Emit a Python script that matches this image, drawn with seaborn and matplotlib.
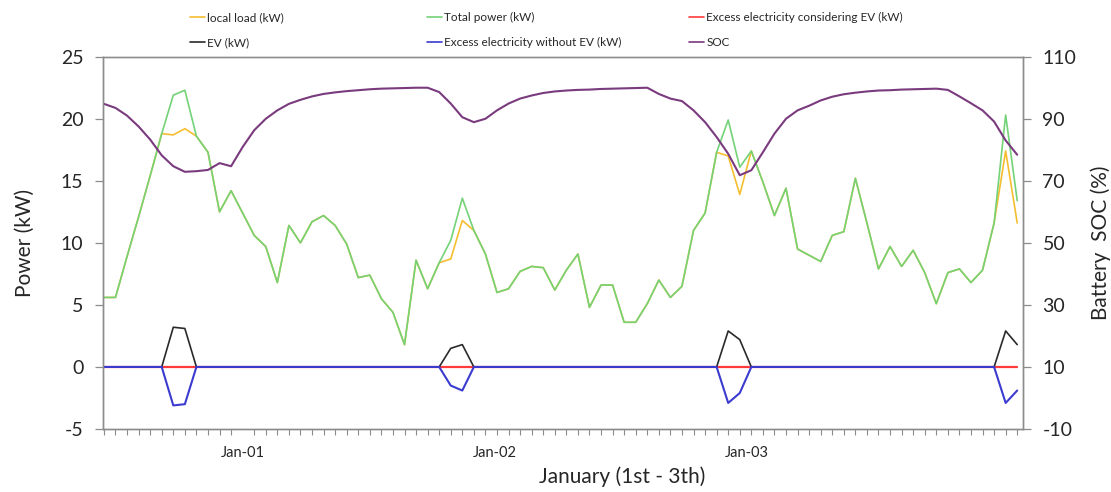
import numpy as np
import pandas as pd
import matplotlib
matplotlib.use("Agg")
import matplotlib.pyplot as plt
from matplotlib.lines import Line2D
import seaborn as sns

# ---------------- data ----------------
total_power = [5.6, 5.6, 8.9, 12.1, 15.4, 18.8, 21.9, 22.3, 18.6, 17.3,
               12.5, 14.2, 12.4, 10.6, 9.7, 6.8, 11.4, 10.0, 11.7, 12.2,
               11.4, 9.9, 7.2, 7.4, 5.5, 4.4, 1.8, 8.6, 6.3, 8.4,
               10.2, 13.6, 11.0, 9.1, 6.0, 6.3, 7.7, 8.1, 8.0, 6.2,
               7.8, 9.1, 4.8, 6.6, 6.6, 3.6, 3.6, 5.1, 7.0, 5.6,
               6.5, 11.0, 12.4, 17.3, 19.9, 16.1, 17.4, 14.9, 12.2, 14.4,
               9.5, 9.0, 8.5, 10.6, 10.9, 15.2, 11.6, 7.9, 9.7, 8.1,
               9.4, 7.6, 5.1, 7.6, 7.9, 6.8, 7.8, 11.6, 20.3, 13.4]

local_load = [5.6, 5.6, 8.9, 12.1, 15.4, 18.8, 18.7, 19.2, 18.6, 17.3,
              12.5, 14.2, 12.4, 10.6, 9.7, 6.8, 11.4, 10.0, 11.7, 12.2,
              11.4, 9.9, 7.2, 7.4, 5.5, 4.4, 1.8, 8.6, 6.3, 8.4,
              8.7, 11.8, 11.0, 9.1, 6.0, 6.3, 7.7, 8.1, 8.0, 6.2,
              7.8, 9.1, 4.8, 6.6, 6.6, 3.6, 3.6, 5.1, 7.0, 5.6,
              6.5, 11.0, 12.4, 17.3, 17.0, 13.9, 17.4, 14.9, 12.2, 14.4,
              9.5, 9.0, 8.5, 10.6, 10.9, 15.2, 11.6, 7.9, 9.7, 8.1,
              9.4, 7.6, 5.1, 7.6, 7.9, 6.8, 7.8, 11.6, 17.4, 11.6]

ev = [0, 0, 0, 0, 0, 0, 3.2, 3.1, 0, 0,
      0, 0, 0, 0, 0, 0, 0, 0, 0, 0,
      0, 0, 0, 0, 0, 0, 0, 0, 0, 0,
      1.5, 1.8, 0, 0, 0, 0, 0, 0, 0, 0,
      0, 0, 0, 0, 0, 0, 0, 0, 0, 0,
      0, 0, 0, 0, 2.9, 2.2, 0, 0, 0, 0,
      0, 0, 0, 0, 0, 0, 0, 0, 0, 0,
      0, 0, 0, 0, 0, 0, 0, 0, 2.9, 1.8]

excess_without_ev = [0, 0, 0, 0, 0, 0, -3.1, -3.0, 0, 0,
                     0, 0, 0, 0, 0, 0, 0, 0, 0, 0,
                     0, 0, 0, 0, 0, 0, 0, 0, 0, 0,
                     -1.5, -1.9, 0, 0, 0, 0, 0, 0, 0, 0,
                     0, 0, 0, 0, 0, 0, 0, 0, 0, 0,
                     0, 0, 0, 0, -2.9, -2.1, 0, 0, 0, 0,
                     0, 0, 0, 0, 0, 0, 0, 0, 0, 0,
                     0, 0, 0, 0, 0, 0, 0, 0, -2.9, -1.9]

excess_with_ev = [0.0] * 80

soc = [94.8, 93.5, 91.0, 87.5, 83.3, 78.2, 74.7, 72.9, 73.1, 73.5,
       75.7, 74.7, 80.9, 86.3, 90.0, 92.7, 94.8, 96.1, 97.2, 98.0,
       98.5, 98.9, 99.2, 99.5, 99.7, 99.8, 99.9, 100.0, 100.0, 98.6,
       94.9, 90.5, 88.9, 90.0, 92.7, 94.9, 96.5, 97.5, 98.3, 98.8,
       99.1, 99.3, 99.4, 99.6, 99.7, 99.8, 99.9, 100.0, 98.0, 96.5,
       95.7, 92.7, 88.9, 84.1, 78.7, 71.8, 73.4, 79.2, 85.2, 90.0,
       92.7, 94.2, 95.9, 97.1, 97.9, 98.4, 98.8, 99.1, 99.2, 99.4,
       99.5, 99.6, 99.7, 99.3, 97.2, 95.0, 92.7, 89.1, 83.0, 78.4]

day_labels = ["Jan-01", "Jan-02", "Jan-03"]
day_label_pos = [12.0, 33.8, 55.6]

# ---------------- style ----------------
sns.set_theme(style="white")
plt.rcParams["font.family"] = ["Lato", "DejaVu Sans"]
plt.rcParams["axes.unicode_minus"] = False

C_LOAD = "#F5BE30"
C_TOTAL = "#74D277"
C_RED = "#FF3B3B"
C_EV = "#2A2A2A"
C_BLUE = "#3B3BD0"
C_SOC = "#7A3A7E"
C_AX = "#8C8C8C"
C_TXT = "#262626"

idx = np.arange(len(total_power))
df = pd.DataFrame({
    "t": idx,
    "local": local_load,
    "total": total_power,
    "exc_ev": excess_with_ev,
    "ev": ev,
    "exc_no": excess_without_ev,
    "soc": soc,
})

fig = plt.figure(figsize=(11.11, 4.92), dpi=100)
ax = fig.add_axes([103 / 1111, 1 - 429 / 492, 920 / 1111, (429 - 56.7) / 492])
ax2 = ax.twinx()

sns.lineplot(data=df, x="t", y="local", ax=ax, color=C_LOAD, lw=1.2, zorder=2)
sns.lineplot(data=df, x="t", y="total", ax=ax, color=C_TOTAL, lw=1.2, zorder=3)
sns.lineplot(data=df, x="t", y="exc_ev", ax=ax, color=C_RED, lw=1.6, zorder=4)
sns.lineplot(data=df, x="t", y="ev", ax=ax, color=C_EV, lw=1.2, zorder=5)
sns.lineplot(data=df, x="t", y="exc_no", ax=ax, color=C_BLUE, lw=1.5, zorder=6)
sns.lineplot(data=df, x="t", y="soc", ax=ax2, color=C_SOC, lw=1.5)

ax.set_xlim(-0.08, 79.5)
ax.set_ylim(-5, 25)
ax2.set_ylim(-10, 110)
ax.set_yticks(np.arange(-5, 26, 5))
ax2.set_yticks(np.arange(-10, 111, 20))

ax.set_xticks(day_label_pos)
ax.set_xticklabels(day_labels)
ax.set_xticks(np.arange(0, 80, 1), minor=True)
ax.tick_params(axis="x", which="major", length=0, pad=12, labelsize=10.5, colors=C_TXT)
ax.tick_params(axis="x", which="minor", length=4, width=0.8, color=C_AX, bottom=True)
ax.tick_params(axis="y", which="major", length=6, width=0.9, color=C_AX, labelsize=14,
               labelcolor=C_TXT, left=True, pad=8)
ax2.tick_params(axis="y", which="major", length=6, width=0.9, color=C_AX, labelsize=14,
                labelcolor=C_TXT, right=True, pad=8)

for a in (ax, ax2):
    for s in a.spines.values():
        s.set_color(C_AX)
        s.set_linewidth(1.0)
        s.set_visible(True)
ax.spines["top"].set_color("#A0A0A0")
ax.grid(False)
ax2.grid(False)

ax.set_ylabel("Power (kW)", fontsize=15, color=C_TXT)
ax.yaxis.set_label_coords(-68 / 920, 0.5)
ax2.set_ylabel("Battery  SOC (%)", fontsize=15, color=C_TXT, labelpad=10)
ax.set_xlabel("January (1st - 3th)", fontsize=15, color=C_TXT)
ax.xaxis.set_label_coords((622 - 103) / 920, -37 / 372.3)

# ---------------- legend ----------------
def entry(color, lw=1.2):
    return Line2D([0], [0], color=color, lw=lw)

groups = [
    ([entry(C_LOAD), entry(C_EV)], ["local load (kW)", "EV (kW)"], 188),
    ([entry(C_TOTAL), entry(C_BLUE)], ["Total power (kW)", "Excess electricity without EV (kW)"], 425),
    ([entry(C_RED), entry(C_SOC)], ["Excess electricity considering EV (kW)", "SOC"], 687),
]
for handles, labels, xpx in groups:
    fig.legend(handles, labels, loc="upper left",
               bbox_to_anchor=(xpx / 1111, 1 - 10 / 492),
               frameon=False, fontsize=8.5, handlelength=1.2, handletextpad=0.25,
               labelspacing=1.15, borderpad=0.2, borderaxespad=0)

fig.savefig("out.png", dpi=100, facecolor="white")
